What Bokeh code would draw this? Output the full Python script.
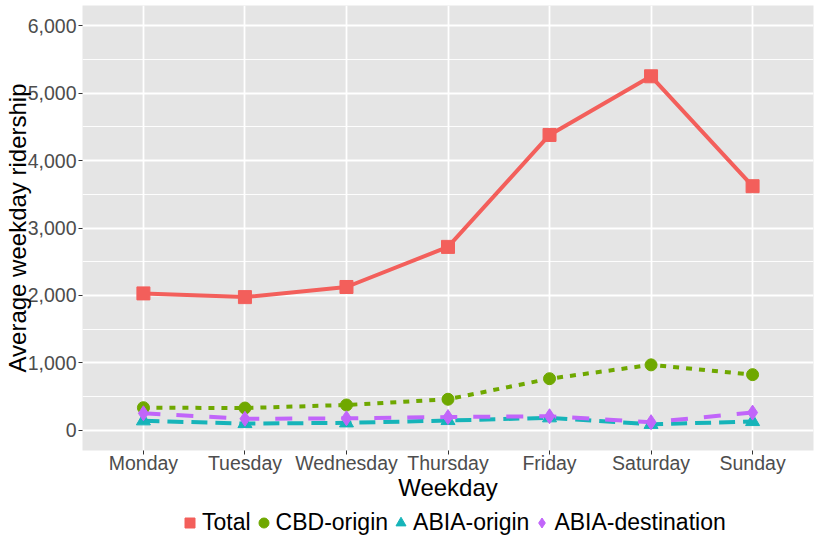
from bokeh.plotting import figure
from bokeh.layouts import column
from bokeh.models import (Range1d, FixedTicker, NumeralTickFormatter, Legend, LegendItem)
from bokeh.embed import file_html
from bokeh.resources import INLINE

# ---- data ----
days = ["Monday", "Tuesday", "Wednesday", "Thursday", "Friday", "Saturday", "Sunday"]
total = [2030, 1975, 2125, 2720, 4380, 5250, 3620]
cbd_origin = [335, 330, 375, 460, 765, 970, 825]
abia_origin = [140, 100, 110, 145, 185, 88, 130]
abia_destination = [252, 170, 178, 196, 208, 120, 262]
series_names = ["Total", "CBD-origin", "ABIA-origin", "ABIA-destination"]
y_ticks = [0, 1000, 2000, 3000, 4000, 5000, 6000]
y_minor = [500, 1500, 2500, 3500, 4500, 5500]
y_title = "Average weekday ridership"
x_title = "Weekday"

FONT = "Liberation Sans"
xs = [i + 1 for i in range(len(days))]

p = figure(width=814, height=503, output_backend="svg", toolbar_location=None,
           x_range=Range1d(0.4, len(days) + 0.6), y_range=Range1d(-300, 6300),
           min_border_left=81, min_border_right=1, min_border_top=5, min_border_bottom=51)

p.background_fill_color = "#E5E5E5"
p.border_fill_color = "white"
p.outline_line_color = None

# grids
p.xgrid.grid_line_color = "white"
p.xgrid.grid_line_width = 1.8
p.ygrid.grid_line_color = "white"
p.ygrid.grid_line_width = 1.8
p.ygrid.minor_grid_line_color = "white"
p.ygrid.minor_grid_line_width = 0.9

# axes
p.xaxis.ticker = FixedTicker(ticks=xs, minor_ticks=[])
p.xaxis.major_label_overrides = {x: d for x, d in zip(xs, days)}
p.yaxis.ticker = FixedTicker(ticks=y_ticks, minor_ticks=y_minor)
p.yaxis.formatter = NumeralTickFormatter(format="0,0")
for ax in (p.xaxis, p.yaxis):
    ax.axis_line_color = None
    ax.major_tick_line_color = "#333333"
    ax.major_tick_line_width = 1
    ax.major_tick_in = 0
    ax.major_tick_out = 4
    ax.minor_tick_in = 0
    ax.minor_tick_out = 0
    ax.major_label_text_font = FONT
    ax.major_label_text_font_size = "19.5px"
    ax.major_label_text_color = "#4D4D4D"
    ax.axis_label_text_font = FONT
    ax.axis_label_text_font_size = "24px"
    ax.axis_label_text_font_style = "normal"
    ax.axis_label_text_color = "black"
p.yaxis.major_label_standoff = 2
p.xaxis.major_label_standoff = -3
p.xaxis.axis_label = x_title
p.xaxis.axis_label_standoff = -3
p.yaxis.axis_label = y_title
p.yaxis.axis_label_standoff = -6

red, green, teal, purple = "#F35F5B", "#6FA800", "#16B4B9", "#C165FA"
colors = [red, green, teal, purple]
markers = ["square", "circle", "triangle", "diamond"]
msizes = [13, 12, 14, 15]
dashes = ["solid", "6 7", "16 8", "17 16"]
values = [total, cbd_origin, abia_origin, abia_destination]

# lines first, then points (as in the reference)
for vals, c, d in zip(values, colors, dashes):
    p.line(xs, vals, line_color=c, line_width=4, line_dash=d, line_join="round")
for vals, c, m, s in zip(values, colors, markers, msizes):
    p.scatter(xs, vals, marker=m, size=s, color=c)

# ---- legend strip below the chart (its renderers fall outside its own view) ----
lg = figure(width=814, height=34, output_backend="svg", toolbar_location=None,
            x_range=Range1d(0, 1), y_range=Range1d(0, 1),
            x_axis_type=None, y_axis_type=None, min_border=0)
lg.outline_line_color = None
lg.grid.visible = False
lg.background_fill_color = "white"
lg.border_fill_color = "white"
items = []
for name, vals, c, m in zip(series_names, values, colors, markers):
    r = lg.scatter(xs, vals, marker=m, size=10, color=c)
    items.append(LegendItem(label=name, renderers=[r]))
legend = Legend(items=items, orientation="horizontal", location=(95, 1),
                spacing=0, padding=0, margin=0, glyph_width=25, glyph_height=25,
                label_standoff=-5, label_text_font=FONT, label_text_font_size="23px",
                label_text_color="black", border_line_color=None,
                background_fill_alpha=0)
lg.add_layout(legend)

layout = column(p, lg, spacing=0)
open("out.html", "w").write(file_html(layout, INLINE))
